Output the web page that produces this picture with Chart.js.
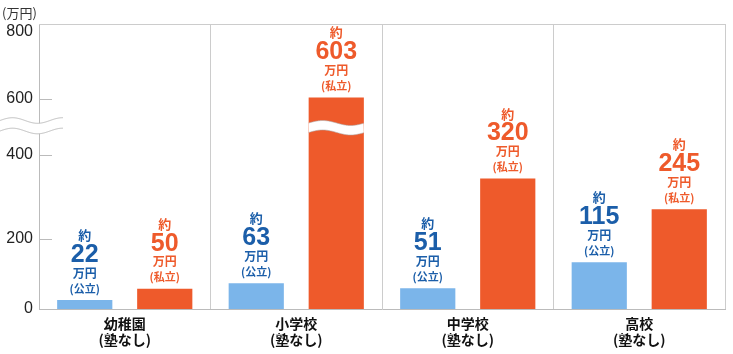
<!DOCTYPE html>
<html><head><meta charset="utf-8">
<script src="https://cdn.jsdelivr.net/npm/chart.js@4/dist/chart.umd.min.js"></script>
<style>html,body{margin:0;padding:0;background:#fff}canvas{display:block}</style>
</head><body>
<canvas id="c" width="733" height="354"></canvas>
<script>
// ---- data ----
const categories = [["幼稚園","(塾なし)"],["小学校","(塾なし)"],["中学校","(塾なし)"],["高校","(塾なし)"]];
const publicCost = [22, 63, 51, 115];
const privateCost = [50, 603, 320, 245];
const seriesNotes = ["(公立)", "(私立)"];
const prefixText = "約";
const unitText = "万円";
const axisUnit = "(万円)";
const yTicks = [0, 200, 400, 600, 800];
const breakValue = 500;

// ---- broken (piecewise) scale: value -> fraction of axis height ----
const KNOTS = {
  y:  [[0,0],[200,70/285],[400,154/285],[600,210/285],[800,277/285],[820,1]],
  yb: [[0,0],[400,163/285],[600,210.5/285],[820,1]]
};
function interp(k, v, a, b) {
  if (v <= k[0][a]) return k[0][b];
  for (let i = 1; i < k.length; i++) {
    if (v <= k[i][a]) {
      const p = k[i-1], q = k[i];
      return p[b] + (v - p[a]) / (q[a] - p[a]) * (q[b] - p[b]);
    }
  }
  return k[k.length-1][b];
}
class BrokenScale extends Chart.LinearScale {
  static id = 'broken';
  static defaults = Chart.LinearScale.defaults;
  getPixelForValue(v) { return this.getPixelForDecimal(interp(KNOTS[this.id], v, 0, 1)); }
  getValueForPixel(p) { return interp(KNOTS[this.id], this.getDecimalForPixel(p), 1, 0); }
}
Chart.register(BrokenScale);

const BAR_COLORS = ['#7BB5EA', '#EE5A2B'];
const TEXT_COLORS = ['#1B5EA9', '#EE5A2B'];

function waveY(x, x0, P, A, yc) { return yc - A * Math.sin(2 * Math.PI * (x - x0) / P); }
function band(ctx, x0, x1, yTop, yBot, P, A, stroke) {
  ctx.save();
  ctx.beginPath();
  for (let x = x0; x <= x1; x += 0.5) ctx.lineTo(x, waveY(x, x0, P, A, yTop));
  for (let x = x1; x >= x0; x -= 0.5) ctx.lineTo(x, waveY(x, x0, P, A, yBot));
  ctx.closePath();
  ctx.fillStyle = '#fff';
  ctx.fill();
  ctx.strokeStyle = stroke; ctx.lineWidth = 1;
  [yTop, yBot].forEach(yc => {
    ctx.beginPath();
    for (let x = x0; x <= x1; x += 0.5) ctx.lineTo(x, waveY(x, x0, P, A, yc));
    ctx.stroke();
  });
  ctx.restore();
}

const decor = {
  id: 'decor',
  afterDatasetsDraw(chart) {
    const ctx = chart.ctx, ca = chart.chartArea, ys = chart.scales.y;
    // top frame line
    ctx.save();
    ctx.strokeStyle = '#ccc'; ctx.lineWidth = 1;
    ctx.beginPath(); ctx.moveTo(ca.left, ca.top + 0.5); ctx.lineTo(ca.right, ca.top + 0.5); ctx.stroke();
    // inner tick marks
    ctx.strokeStyle = '#bbb';
    yTicks.forEach(v => {
      if (v === 0 || v === 800) return;
      const y = Math.round(ys.getPixelForValue(v)) + 0.5;
      ctx.beginPath(); ctx.moveTo(ca.left, y); ctx.lineTo(ca.left + 13, y); ctx.stroke();
    });
    ctx.restore();
    const pb = ys.getPixelForValue(breakValue);
    // axis break
    band(ctx, 0, 63, pb - 6.5, pb + 4, 50, 2.8, '#bbb');
    // bar breaks and labels
    chart.data.datasets.forEach((ds, di) => {
      const meta = chart.getDatasetMeta(di);
      meta.data.forEach((bar, i) => {
        const x = bar.x, top = bar.y, hw = bar.width / 2;
        if (ds.data[i] > breakValue) band(ctx, x - hw, x + hw, pb - 4, pb + 5.5, 56, 2.5, 'rgba(170,170,170,0.6)');
        ctx.save();
        ctx.fillStyle = TEXT_COLORS[di];
        ctx.textAlign = 'center'; ctx.textBaseline = 'middle';
        ctx.font = 'bold 13px "Noto Sans CJK JP"'; ctx.fillText(prefixText, x, top - 65);
        ctx.font = 'bold 25px "Liberation Sans"'; ctx.fillText(String(ds.data[i]), x, top - 45);
        ctx.font = 'bold 12px "Noto Sans CJK JP"'; ctx.fillText(unitText, x, top - 27);
        ctx.font = 'bold 11px "Noto Sans CJK JP"'; ctx.fillText(seriesNotes[di], x, top - 11.5);
        ctx.restore();
      });
    });
    // unit label
    ctx.save();
    ctx.fillStyle = '#333'; ctx.font = '13px "Noto Sans CJK JP"';
    ctx.textAlign = 'left'; ctx.textBaseline = 'middle';
    ctx.fillText(axisUnit, 2, 13);
    ctx.restore();
  }
};

new Chart(document.getElementById('c'), {
  type: 'bar',
  data: {
    labels: categories,
    datasets: [
      { data: publicCost, backgroundColor: BAR_COLORS[0], yAxisID: 'yb', categoryPercentage: 0.933, barPercentage: 0.69 },
      { data: privateCost, backgroundColor: BAR_COLORS[1], yAxisID: 'yb', categoryPercentage: 0.933, barPercentage: 0.69 }
    ]
  },
  options: {
    responsive: false, animation: false, devicePixelRatio: 1,
    layout: { padding: { top: 24, right: 8, left: 0, bottom: 0 } },
    plugins: { legend: { display: false }, tooltip: { enabled: false } },
    scales: {
      x: {
        grid: { color: '#ccc', offset: true, drawTicks: false },
        border: { color: '#bbb' },
        ticks: { color: '#111', padding: 7, font: { family: '"Noto Sans CJK JP"', size: 14, weight: 'bold', lineHeight: 1.15 } },
        afterFit: s => { s.height = 45; }
      },
      y: {
        type: 'broken', position: 'left', min: 0, max: 820,
        grid: { display: false, drawTicks: false },
        border: { color: '#bbb' },
        ticks: { color: '#222', padding: 6, font: { family: '"Liberation Sans"', size: 16 }, callback: v => String(v) },
        afterBuildTicks: s => { s.ticks = yTicks.map(v => ({ value: v })); },
        afterFit: s => { s.width = 39; }
      },
      yb: {
        type: 'broken', position: 'left', display: false, min: 0, max: 820,
        afterBuildTicks: s => { s.ticks = yTicks.map(v => ({ value: v })); }
      }
    }
  },
  plugins: [decor]
});
</script>
</body></html>
